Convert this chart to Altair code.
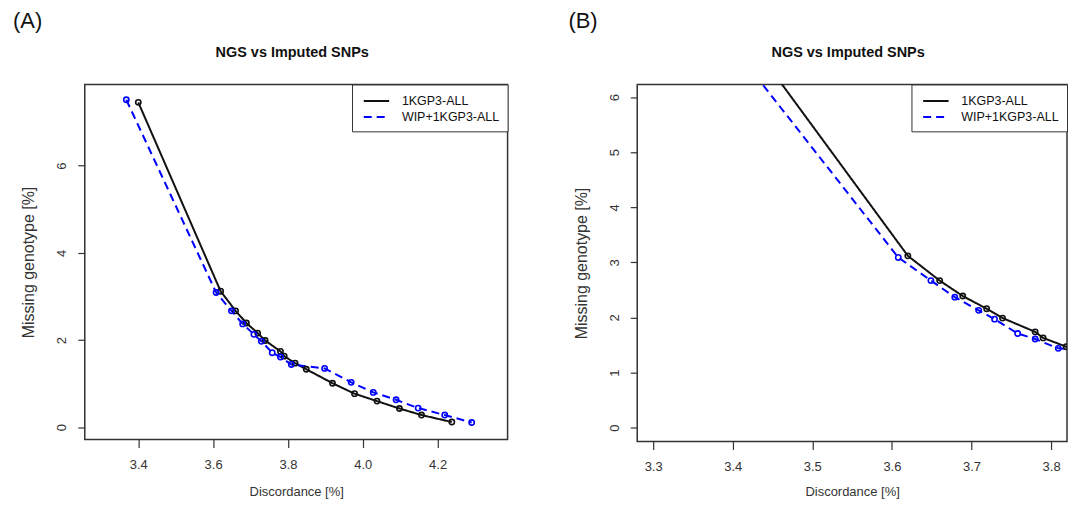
import altair as alt
import pandas as pd

# ---- data ----
series_names = ["1KGP3-ALL", "WIP+1KGP3-ALL"]

kg_x = [3.400, 3.620, 3.660, 3.689, 3.719, 3.739, 3.780, 3.790, 3.819, 3.849,
        3.919, 3.978, 4.038, 4.098, 4.157, 4.238]
kg_y = [7.45, 3.12, 2.67, 2.39, 2.16, 1.99, 1.74, 1.63, 1.47, 1.33,
        1.01, 0.77, 0.60, 0.43, 0.28, 0.12]

wip_x = [3.368, 3.608, 3.649, 3.679, 3.709, 3.729, 3.758, 3.780, 3.809, 3.898,
         3.969, 4.028, 4.089, 4.148, 4.219, 4.291]
wip_y = [7.51, 3.09, 2.67, 2.37, 2.13, 1.97, 1.71, 1.61, 1.44, 1.35,
         1.03, 0.80, 0.63, 0.44, 0.28, 0.11]

a_xticks = [3.4, 3.6, 3.8, 4.0, 4.2]
a_yticks = [0, 2, 4, 6]
b_xticks = [3.3, 3.4, 3.5, 3.6, 3.7, 3.8]
b_yticks = [0, 1, 2, 3, 4, 5, 6]

title_text = "NGS vs Imputed SNPs"
x_title = "Discordance [%]"
y_title = "Missing genotype [%]"

rows = []
for i, (x, y) in enumerate(zip(kg_x, kg_y)):
    rows.append({"series": series_names[0], "x": x, "y": y, "i": i})
for i, (x, y) in enumerate(zip(wip_x, wip_y)):
    rows.append({"series": series_names[1], "x": x, "y": y, "i": i})
df = pd.DataFrame(rows)

FONT = "Liberation Sans"
TXT = "#333333"

color_scale = alt.Scale(domain=series_names, range=["#111111", "#0000FF"])
dash_scale = alt.Scale(domain=series_names, range=[[1, 0], [8, 5]])


def panel(tag, xdom, ydom, xticks, yticks, w, h, title_dx, x_title_y):
    xenc = alt.X("x:Q", scale=alt.Scale(domain=xdom, nice=False, zero=False),
                 axis=alt.Axis(values=xticks, format=".1f", title=x_title,
                               tickSize=8, labelPadding=11,
                               titleX=w / 2, titleY=x_title_y,
                               titleAlign="center", titleBaseline="middle",
                               titleAngle=0))
    yenc = alt.Y("y:Q", scale=alt.Scale(domain=ydom, nice=False, zero=False),
                 axis=alt.Axis(values=yticks, format="d", title=y_title,
                               tickSize=7, labelPadding=9, labelAngle=270,
                               titleX=-56, titleY=h / 2, titleAngle=270,
                               titleAlign="center", titleBaseline="middle",
                               titleFontSize=16))
    leg = alt.Legend(title=None, orient="top-right", offset=0)
    lines = alt.Chart(df).mark_line(strokeWidth=2, clip=True).encode(
        x=xenc, y=yenc,
        color=alt.Color("series:N", scale=color_scale, legend=leg),
        strokeDash=alt.StrokeDash("series:N", scale=dash_scale, legend=leg),
        order="i:Q",
    )
    pts = alt.Chart(df).mark_point(filled=False, size=28, strokeWidth=1.6,
                                   clip=True, opacity=1).encode(
        x="x:Q", y="y:Q",
        color=alt.Color("series:N", scale=color_scale, legend=None),
    )
    ttl = alt.Chart(pd.DataFrame({"t": [title_text]})).mark_text(
        font=FONT, fontSize=14.5, fontWeight="bold", color="#111111",
        align="center", baseline="middle"
    ).encode(text="t:N", x=alt.value(w / 2 + title_dx), y=alt.value(-32))
    lab = alt.Chart(pd.DataFrame({"t": [tag]})).mark_text(
        font=FONT, fontSize=22, color="#111111", align="left", baseline="top"
    ).encode(text="t:N", x=alt.value(-72 if tag == "(A)" else -69), y=alt.value(-74))
    return alt.layer(lines, pts, ttl, lab).properties(width=w, height=h)


pa = panel("(A)", [3.257, 4.387], [-0.28, 7.86], a_xticks, a_yticks, 424, 356, -4, 52)
pb = panel("(B)", [3.28, 3.82], [-0.25, 6.23], b_xticks, b_yticks, 431, 358, -4, 50)

chart = alt.hconcat(pa, pb, spacing=58).resolve_legend(
    color="independent", strokeDash="independent"
).resolve_scale(
    x="independent", y="independent"
).properties(
    padding={"left": 4, "top": 0, "right": 0, "bottom": 0}
).configure_view(
    stroke="#333333", strokeWidth=1.5
).configure_axis(
    domain=False, grid=False, labelFont=FONT, labelFontSize=13, labelColor=TXT,
    tickColor="#333333", tickWidth=1.2, titleFont=FONT, titleFontSize=13,
    titleColor=TXT, titleFontWeight="normal"
).configure_legend(
    strokeColor="#333333", fillColor="white", padding=8, labelFont=FONT,
    labelFontSize=12.5, labelColor="#111111", symbolType="M-1.7,0H1.7",
    symbolSize=225, symbolStrokeWidth=2, symbolOffset=8, labelOffset=17,
    rowPadding=1, cornerRadius=0
)

chart.save("out.html", embed_options={"renderer": "svg", "actions": False})
